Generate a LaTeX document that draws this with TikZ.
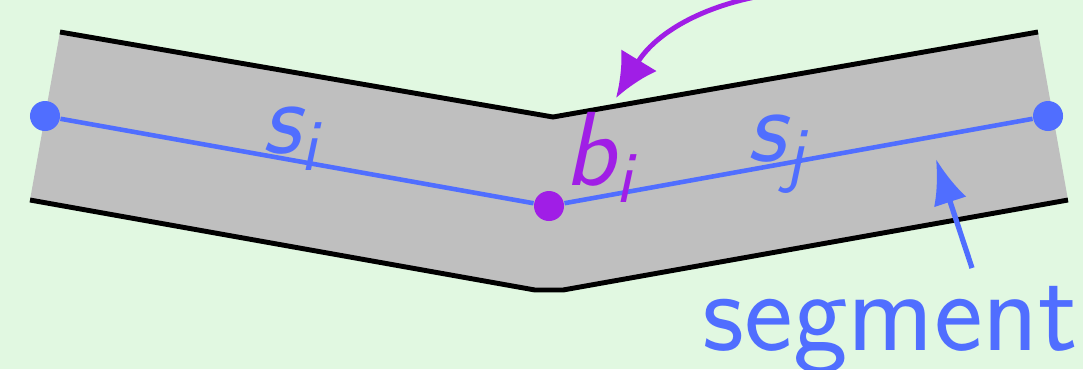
\documentclass[tikz,border=0pt]{standalone}
\usepackage{amsmath}
\usepackage{xcolor}
\usepackage{tikz}
\usetikzlibrary{arrows.meta}
\definecolor{slidebg}{RGB}{225,248,225}
\definecolor{bandgray}{gray}{0.75}
\definecolor{segblue}{RGB}{80,110,255}
\definecolor{bendpurple}{RGB}{160,30,230}

\begin{document}
\begin{tikzpicture}[x=0.01cm, y=-0.01cm,
		dot/.style={circle, fill=#1, inner sep=0pt, minimum size=0.3cm},
		rim/.style={black, line width=1.4pt},
		varlbl/.style={inner sep=0pt, anchor=base west,
			font=\fontsize{30}{32}\selectfont\sffamily\slshape}]

			% --- Background ---
			\fill[slidebg] (0,0) rectangle (1083,369);
			\useasboundingbox (0,0) rectangle (1083,369);

			% --- Bent band ---
			\fill[bandgray] (60,32) -- (553,117) -- (1038,32) -- (1068,200)
				-- (563,290) -- (535,290) -- (30,200) -- cycle;
			\draw[rim] (60,32) -- (553,117) -- (1038,32);
			\draw[rim] (30,200) -- (535,290) -- (563,290) -- (1068,200);

			% --- Segment end points and bend point ---
			\node[dot=segblue]    (si0) at (45,116)   {};
			\node[dot=bendpurple] (bi)  at (549,206)  {};
			\node[dot=segblue]    (sj1) at (1048,116) {};
			\draw[segblue, line width=1.3pt] (si0) -- (bi) -- (sj1);

			% Segment labels
			\node[varlbl, text=segblue]    (lsi) at (262,153) {$\text{s}_{\text{i}}$};
			\node[varlbl, text=segblue]    (lsj) at (747,161) {$\text{s}_{\text{j}}$};
			\node[varlbl, text=bendpurple] (lbi) at (564,185) {$\text{b}_{\text{i}}$};

			% --- Pointers ---
			\coordinate (bfrom) at (772,-6);
			\coordinate (bto)   at (616,98);
			\draw[bendpurple, line width=1.4pt, -{Latex[length=0.44cm, width=0.42cm]}]
				(bfrom) to[bend right=25] (bto);

			\node[inner sep=0pt, anchor=base west, text=segblue,
				font=\fontsize{33}{36}\selectfont\sffamily] (lseg) at (702,350) {segment};
			\coordinate (segfrom) at (972,268);
			\coordinate (segto)   at (936,159);
			\draw[segblue, line width=1.5pt, -{Latex[length=0.45cm, width=0.34cm]}]
				(segfrom) -- (segto);
		\end{tikzpicture}
\end{document}
